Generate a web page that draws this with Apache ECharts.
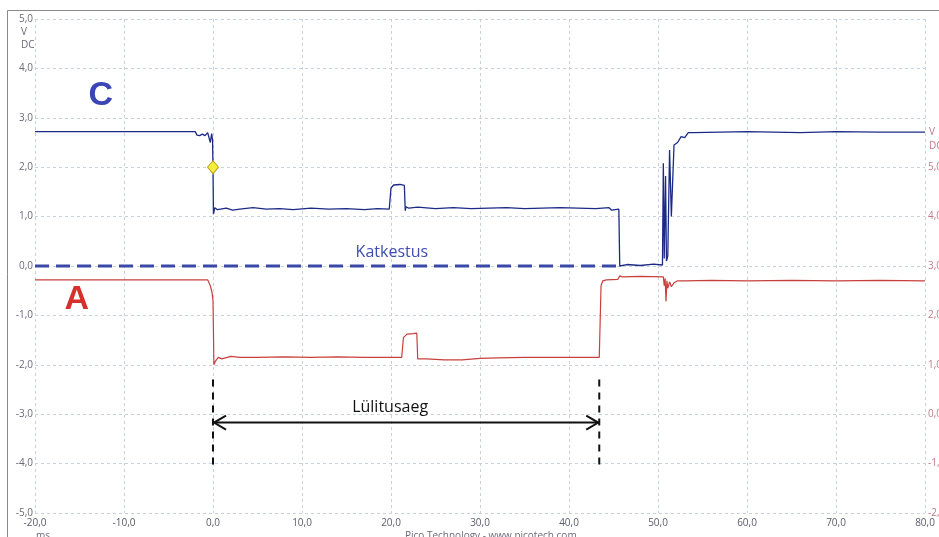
<!DOCTYPE html>
<html><head><meta charset="utf-8">
<script src="https://cdn.jsdelivr.net/npm/echarts@6/dist/echarts.min.js"></script>
<style>html,body{margin:0;padding:0;background:#fff}#c{width:939px;height:537px}</style>
</head><body><div id="c"></div>
<script>
// Channel C (left axis, V DC)
const cTime = [-20,-8,-2.0,-1.8,-1.5,-1.2,-0.9,-0.6,-0.45,-0.3,-0.15,-0.05,0.0,0.05,0.2,0.5,1.5,2.2,3,4.5,6,7.5,9,11,13,15,17,18.5,19.8,20.0,20.3,21.0,21.5,21.6,21.7,22.0,23,25,27,29,31,33,35,37,39,41,43,44.5,44.8,45.6,45.7,46.5,48,49.5,50.5,50.6,50.7,50.85,50.95,51.1,51.3,51.5,51.8,52.2,52.6,53.0,53.4,54,60,66,70,75,80];
const cVolt = [2.72,2.72,2.72,2.65,2.64,2.67,2.64,2.70,2.72,2.50,2.68,2.55,2.0,1.05,1.18,1.14,1.17,1.13,1.15,1.18,1.15,1.16,1.14,1.17,1.15,1.16,1.14,1.16,1.15,1.58,1.64,1.65,1.63,1.12,1.20,1.17,1.19,1.16,1.18,1.16,1.17,1.18,1.16,1.17,1.18,1.17,1.16,1.18,1.13,1.15,0.0,0.03,0.01,0.04,0.02,2.08,0.15,1.82,0.10,0.20,2.35,1.0,2.45,2.50,2.62,2.60,2.70,2.70,2.72,2.70,2.72,2.71,2.71];
// Channel A (right axis, V DC)
const aTime = [-20,-10,-2,-0.6,-0.3,-0.1,0.0,0.1,0.3,0.6,1,2,3,5,8,11,14,17,19,21.2,21.4,21.8,22.5,22.9,23.0,24,26,28,30,32,35,38,41,43.4,43.6,43.8,44.2,45.5,45.7,46,48,50.6,50.7,50.8,50.9,51.0,51.1,51.3,51.5,51.8,52.2,53,56,60,65,70,75,80];
const aVolt = [2.72,2.72,2.72,2.72,2.60,2.45,2.30,1.00,1.08,1.15,1.12,1.17,1.15,1.15,1.16,1.15,1.16,1.15,1.15,1.15,1.55,1.62,1.63,1.64,1.12,1.12,1.10,1.10,1.13,1.14,1.15,1.15,1.15,1.15,2.60,2.70,2.72,2.73,2.80,2.78,2.79,2.78,2.60,2.75,2.28,2.70,2.55,2.68,2.58,2.66,2.70,2.70,2.71,2.70,2.71,2.70,2.71,2.70];
// Annotations
const gapTime = [-20, 45.6];      // "Katkestus" dashed line at 0 V
const gapLevel = 0;
const switchStart = 0, switchEnd = 43.4;   // "Lülitusaeg"
const arrowLevel = -3.17, markTop = -2.3, markBottom = -4.02;
const cursorPoint = [0, 2.0];
const xMin = -20, xMax = 80, xStep = 10;
const yLeftMin = -5, yLeftMax = 5;
const yRightMin = -2, yRightMax = 8, yRightShowMax = 5;
const labels = [
  {text: 'C', at: [-12.6, 3.45], color: '#3a45b6', size: 34, weight: 'bold'},
  {text: 'A', at: [-15.3, -0.69], color: '#d6302c', size: 34, weight: 'bold'},
  {text: 'Katkestus', at: [20.1, 0.28], color: '#3f4db0', size: 16, weight: 'normal'},
  {text: 'Lülitusaeg', at: [19.9, -2.87], color: '#111', size: 16, weight: 'normal'}
];

const fmt = v => v.toFixed(1).replace('.', ',');
const zip = (a, b) => a.map((t, i) => [t, b[i]]);
const gridColor = '#c9d1d8';

const chart = echarts.init(document.getElementById('c'), null, {renderer: 'canvas'});
chart.setOption({
  animation: false,
  backgroundColor: '#fff',
  grid: {left: 35, right: 14, top: 19, bottom: 24, containLabel: false, outerBoundsMode: 'none'},
  xAxis: {
    type: 'value', min: xMin, max: xMax, interval: xStep,
    axisLine: {show: false}, axisTick: {show: false},
    axisLabel: {formatter: fmt, color: '#5b5b6b', fontSize: 10, fontFamily: 'Open Sans', margin: 5, showMinLabel: true, showMaxLabel: true},
    splitLine: {show: true, lineStyle: {color: gridColor, type: [3, 3], width: 1}}
  },
  yAxis: [{
    type: 'value', min: yLeftMin, max: yLeftMax, interval: 1,
    axisLine: {show: false}, axisTick: {show: false},
    axisLabel: {formatter: fmt, color: '#6a6a7a', fontSize: 10, fontFamily: 'Open Sans', margin: 2},
    splitLine: {show: true, lineStyle: {color: gridColor, type: [3, 3], width: 1}}
  }, {
    type: 'value', min: yRightMin, max: yRightMax, interval: 1, position: 'right',
    axisLine: {show: false}, axisTick: {show: false},
    axisLabel: {formatter: v => v > yRightShowMax ? '' : fmt(v), color: '#c27a88', fontSize: 10, fontFamily: 'Open Sans', margin: 3},
    splitLine: {show: false}
  }],
  graphic: [
    {type: 'rect', shape: {x: 7.5, y: 10.5, width: 960, height: 560}, style: {fill: 'none', stroke: '#8a8a8a', lineWidth: 1}, silent: true},
    {type: 'text', left: 21, top: 27, style: {text: 'V', fill: '#6a6a7a', font: '10px "Open Sans"'}},
    {type: 'text', left: 21, top: 40, style: {text: 'DC', fill: '#6a6a7a', font: '10px "Open Sans"'}},
    {type: 'text', left: 929, top: 127, style: {text: 'V', fill: '#c27a88', font: '10px "Open Sans"'}},
    {type: 'text', left: 929, top: 141, style: {text: 'DC', fill: '#c27a88', font: '10px "Open Sans"'}},
    {type: 'text', left: 36, top: 531, style: {text: 'ms', fill: '#6a6a7a', font: '10px "Open Sans"'}},
    {type: 'text', left: 405, top: 531, style: {text: 'Pico Technology - www.picotech.com', fill: '#6a6a7a', font: '10px "Open Sans"'}}
  ],
  series: [
    {type: 'line', name: 'Katkestus', yAxisIndex: 0, data: gapTime.map(t => [t, gapLevel]), symbol: 'none',
     lineStyle: {color: '#3a48a8', width: 3, type: [14, 7]}, z: 3},
    {type: 'line', name: 'A', yAxisIndex: 1, data: zip(aTime, aVolt), symbol: 'none',
     lineStyle: {color: '#c8403e', width: 1.2}, z: 4},
    {type: 'line', name: 'C', yAxisIndex: 0, data: zip(cTime, cVolt), symbol: 'none',
     lineStyle: {color: '#1c2a86', width: 1.3}, z: 5},
    {type: 'scatter', yAxisIndex: 0, data: [cursorPoint], symbol: 'diamond', symbolSize: [11, 13],
     itemStyle: {color: '#f5ee3a', borderColor: '#c0a020', borderWidth: 1, opacity: 1}, z: 6},
    {type: 'line', yAxisIndex: 0, data: [[switchStart, markTop], [switchStart, markBottom]], symbol: 'none',
     lineStyle: {color: '#111', width: 2, type: [7, 6]}, z: 3},
    {type: 'line', yAxisIndex: 0, data: [[switchEnd, markTop], [switchEnd, markBottom]], symbol: 'none',
     lineStyle: {color: '#111', width: 2, type: [7, 6]}, z: 3},
    {type: 'custom', yAxisIndex: 0, data: [[switchStart, switchEnd, arrowLevel]], z: 6,
     renderItem: function (params, api) {
       const p1 = api.coord([api.value(0), api.value(2)]);
       const p2 = api.coord([api.value(1), api.value(2)]);
       const st = {stroke: '#111', lineWidth: 2, fill: 'none'};
       return {type: 'group', children: [
         {type: 'line', shape: {x1: p1[0], y1: p1[1], x2: p2[0], y2: p2[1]}, style: st},
         {type: 'polyline', shape: {points: [[p1[0] + 13, p1[1] - 7], [p1[0] + 1, p1[1]], [p1[0] + 13, p1[1] + 7]]}, style: st},
         {type: 'polyline', shape: {points: [[p2[0] - 13, p2[1] - 7], [p2[0] - 1, p2[1]], [p2[0] - 13, p2[1] + 7]]}, style: st}
       ]};
     }},
    {type: 'scatter', yAxisIndex: 0, symbolSize: 0, z: 7, itemStyle: {opacity: 1},
     data: labels.map(l => ({value: l.at, label: {show: true, position: 'inside', formatter: l.text, color: l.color, opacity: 1, fontSize: l.size, fontWeight: l.weight, fontFamily: l.size > 20 ? 'Liberation Sans' : 'Open Sans'}}))}
  ]
});
</script></body></html>
